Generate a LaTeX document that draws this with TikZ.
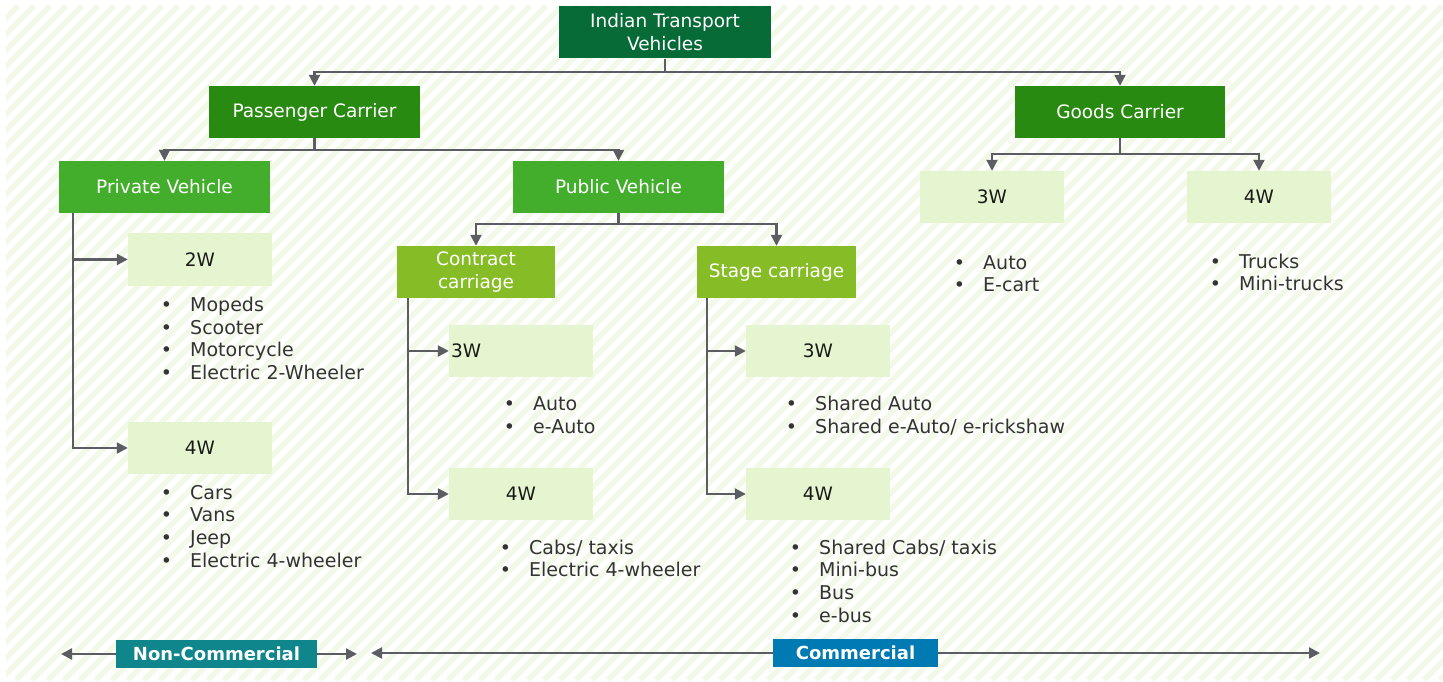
\documentclass[tikz,border=0pt]{standalone}
\usepackage{fontspec}
\setmainfont{DejaVu Sans}
\usetikzlibrary{arrows.meta}
\definecolor{cRoot}{HTML}{076B37}
\definecolor{cLvl1}{HTML}{298A12}
\definecolor{cLvl2}{HTML}{43AE2B}
\definecolor{cLvl3}{HTML}{86BC25}
\definecolor{cLight}{HTML}{E5F5D0}
\definecolor{cNonCom}{HTML}{0F868C}
\definecolor{cCom}{HTML}{007AB3}
\definecolor{cLine}{HTML}{5B5D63}
\definecolor{cHatch}{HTML}{F3F9E8}
\definecolor{cText}{HTML}{333333}
\newcommand{\bi}[1]{\makebox[29.3pt][l]{•}#1}
\begin{document}
\begin{tikzpicture}[x=1pt,y=-1pt,
  box/.style={rectangle, inner sep=0pt, align=center, font=\fontsize{18.5}{23}\selectfont},
  rootbox/.style={box, fill=cRoot, text=white, minimum width=212pt, minimum height=52pt},
  lvlone/.style={box, fill=cLvl1, text=white, minimum width=211pt, minimum height=52pt},
  lvltwo/.style={box, fill=cLvl2, text=white, minimum width=211pt, minimum height=52pt},
  lvlthree/.style={box, fill=cLvl3, text=white, minimum width=158pt, minimum height=52pt},
  leaf/.style={box, fill=cLight, text=black!90, minimum width=144pt, minimum height=52pt},
  blist/.style={inner sep=0pt, anchor=base west, text=cText, font=\fontsize{19}{22.7}\selectfont},
  tag/.style={rectangle, inner sep=0pt, text=white, minimum height=28pt, font=\fontsize{18}{22}\selectfont\bfseries},
  link/.style={draw=cLine, line width=2.2pt},
  arr/.style={link, -{Triangle[length=11pt,width=11pt]}},
  hatch/.style={draw=cHatch, line width=5.5pt}
]
\useasboundingbox (0,0) rectangle (1443,682);
\fill[white] (0,0) rectangle (1443,682);
\begin{scope}
  \clip (6,6) rectangle (1443,680);
  \foreach \t in {-704,-688,...,1456} \draw[hatch] (\t,680) -- ++(674,-674);
\end{scope}

% nodes
\node[rootbox] (root) at (665,32.5) {Indian Transport\\Vehicles};
\node[lvlone] (pc) at (314.5,112) {Passenger Carrier};
\node[lvlone, minimum width=210pt] (gc) at (1120,112) {Goods Carrier};
\node[lvltwo] (pv) at (164.5,187) {Private Vehicle};
\node[lvltwo] (pub) at (618.5,187) {Public Vehicle};
\node[leaf] (g3) at (992,197) {3W};
\node[leaf] (g4) at (1259,197) {4W};
\node[leaf, minimum height=53pt] (p2) at (200,259.5) {2W};
\node[leaf] (p4) at (200,448) {4W};
\node[lvlthree] (cc) at (476,272) {Contract\\carriage};
\node[lvlthree, minimum width=159pt] (sc) at (776.5,272) {Stage carriage};
\node[leaf, text width=140pt, inner xsep=2pt, align=left] (c3) at (521,351) {3W};
\node[leaf] (c4) at (521,494) {4W};
\node[leaf] (s3) at (818,351) {3W};
\node[leaf] (s4) at (818,494) {4W};

% bullet lists
\node[blist] (lp2) at (160.7,311.5) {\begin{tabular}[t]{@{}l@{}}\bi{Mopeds}\\\bi{Scooter}\\\bi{Motorcycle}\\\bi{Electric 2-Wheeler}\end{tabular}};
\node[blist] (lp4) at (160.7,499) {\begin{tabular}[t]{@{}l@{}}\bi{Cars}\\\bi{Vans}\\\bi{Jeep}\\\bi{Electric 4-wheeler}\end{tabular}};
\node[blist] (lc3) at (503.7,410.5) {\begin{tabular}[t]{@{}l@{}}\bi{Auto}\\\bi{e-Auto}\end{tabular}};
\node[blist] (lc4) at (499.7,554) {\begin{tabular}[t]{@{}l@{}}\bi{Cabs/ taxis}\\\bi{Electric 4-wheeler}\end{tabular}};
\node[blist] (ls3) at (785.7,410.5) {\begin{tabular}[t]{@{}l@{}}\bi{Shared Auto}\\\bi{Shared e-Auto/ e-rickshaw}\end{tabular}};
\node[blist] (ls4) at (789.7,554) {\begin{tabular}[t]{@{}l@{}}\bi{Shared Cabs/ taxis}\\\bi{Mini-bus}\\\bi{Bus}\\\bi{e-bus}\end{tabular}};
\node[blist] (lg3) at (953.7,269) {\begin{tabular}[t]{@{}l@{}}\bi{Auto}\\\bi{E-cart}\end{tabular}};
\node[blist] (lg4) at (1209.7,268) {\begin{tabular}[t]{@{}l@{}}\bi{Trucks}\\\bi{Mini-trucks}\end{tabular}};

% tree connectors
\coordinate (j1) at (665,72);
\draw[link] (root.south) -- (j1);
\draw[arr] (j1) -| (pc.north);
\draw[arr] (j1) -| (gc.north);

\coordinate (j2) at (314.5,150);
\draw[link] (pc.south) -- (j2);
\draw[arr] (j2) -| (pv.north);
\draw[arr] (j2) -| (pub.north);

\coordinate (j3) at (1120,154);
\draw[link] (gc.south) -- (j3);
\draw[arr] (j3) -| (g3.north);
\draw[arr] (j3) -| (g4.north);

\coordinate (j4) at (618.5,224);
\draw[link] (pub.south) -- (j4);
\draw[arr] (j4) -| (cc.north);
\draw[arr] (j4) -| (sc.north);

\coordinate (pvl) at ([xshift=14pt]pv.south west);
\draw[arr] (pvl) |- (p2.west);
\draw[arr] (pvl) |- (p4.west);

\coordinate (ccl) at ([xshift=11pt]cc.south west);
\draw[arr] (ccl) |- (c3.west);
\draw[arr] (ccl) |- (c4.west);

\coordinate (scl) at ([xshift=10pt]sc.south west);
\draw[arr] (scl) |- (s3.west);
\draw[arr] (scl) |- (s4.west);

% bottom scale
\node[tag, fill=cNonCom, minimum width=201pt] (nc) at (216.5,654) {Non-Commercial};
\node[tag, fill=cCom, minimum width=165pt] (cm) at (855.5,653) {Commercial};
\coordinate (ncL) at (61,654);
\coordinate (ncR) at (357,654);
\coordinate (cmL) at (371,653);
\coordinate (cmR) at (1320,653);
\draw[arr] (nc.west) -- (ncL);
\draw[arr] (nc.east) -- (ncR);
\draw[arr] (cm.west) -- (cmL);
\draw[arr] (cm.east) -- (cmR);
\end{tikzpicture}
\end{document}
